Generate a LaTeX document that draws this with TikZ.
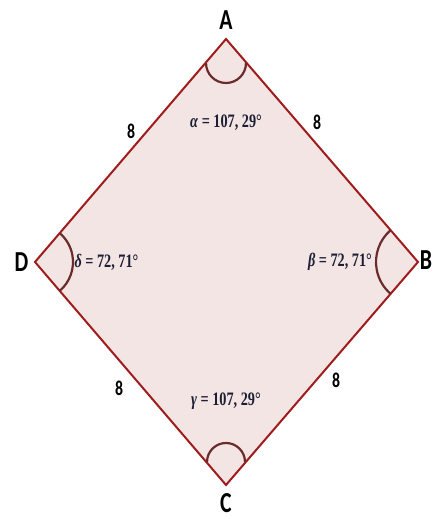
\documentclass[tikz,border=0pt]{standalone}
\usepackage{fontspec}
\usepackage{amsmath}
\newfontfamily\lblfont{Carlito}
\newfontfamily\angfont{Liberation Serif}
\definecolor{edgered}{HTML}{A01C1C}
\definecolor{arcbrown}{HTML}{6B2B2B}
\definecolor{rhfill}{HTML}{F4E5E5}
\definecolor{angtext}{HTML}{1C1F33}
\newcommand{\narrow}[1]{\scalebox{0.75}[1]{#1}}
\newcommand{\grk}[1]{\textit{#1}}

\begin{document}
\begin{tikzpicture}[x=1pt,y=1pt,
  vlabel/.style={inner sep=0pt,font=\lblfont\bfseries\fontsize{29}{29}\selectfont},
  sidelabel/.style={inner sep=0pt,font=\lblfont\bfseries\fontsize{21}{21}\selectfont},
  anglabel/.style={inner sep=0pt,text=angtext,font=\angfont\bfseries\fontsize{19}{19}\selectfont},
  anglearc/.style={arcbrown,line width=2.2pt}]
\useasboundingbox (0,0) rectangle (432,519);
\coordinate (A) at (226,480);
\coordinate (B) at (418,257);
\coordinate (C) at (226,34);
\coordinate (D) at (35,257);
\filldraw[draw=edgered,fill=rhfill,line width=2pt,line join=miter] (A) -- (B) -- (C) -- (D) -- cycle;
% angle marks
\draw[anglearc] ([shift={(-20,-24)}]A) arc[start angle=180,end angle=360,radius=20];
\draw[anglearc] ([shift={(19,23)}]C) arc[start angle=0,end angle=180,radius=19];
\draw[anglearc] ([shift={(-49.4:38)}]D) arc[start angle=-49.4,end angle=49.4,radius=38];
\draw[anglearc] ([shift={(130.6:42)}]B) arc[start angle=130.6,end angle=229.4,radius=42];
% vertices
\node[vlabel] (lA) at (226,499) {\narrow{A}};
\node[vlabel] (lB) at (426,259) {\narrow{B}};
\node[vlabel] (lC) at (226,16) {\narrow{C}};
\node[vlabel] (lD) at (21.5,257) {\narrow{D}};
% sides
\node[sidelabel] (sDA) at (131,388) {\narrow{8}};
\node[sidelabel] (sAB) at (317,397) {\narrow{8}};
\node[sidelabel] (sDC) at (119,131) {\narrow{8}};
\node[sidelabel] (sCB) at (336,139) {\narrow{8}};
% angles
\node[anglabel] (angA) at (226,396) {\narrow{\grk{α} = 107, 29°}};
\node[anglabel] (angB) at (340,257) {\narrow{\grk{β} = 72, 71°}};
\node[anglabel] (angC) at (226,118) {\narrow{\grk{γ} = 107, 29°}};
\node[anglabel] (angD) at (106.5,257) {\narrow{\grk{δ} = 72, 71°}};
\end{tikzpicture}
\end{document}
